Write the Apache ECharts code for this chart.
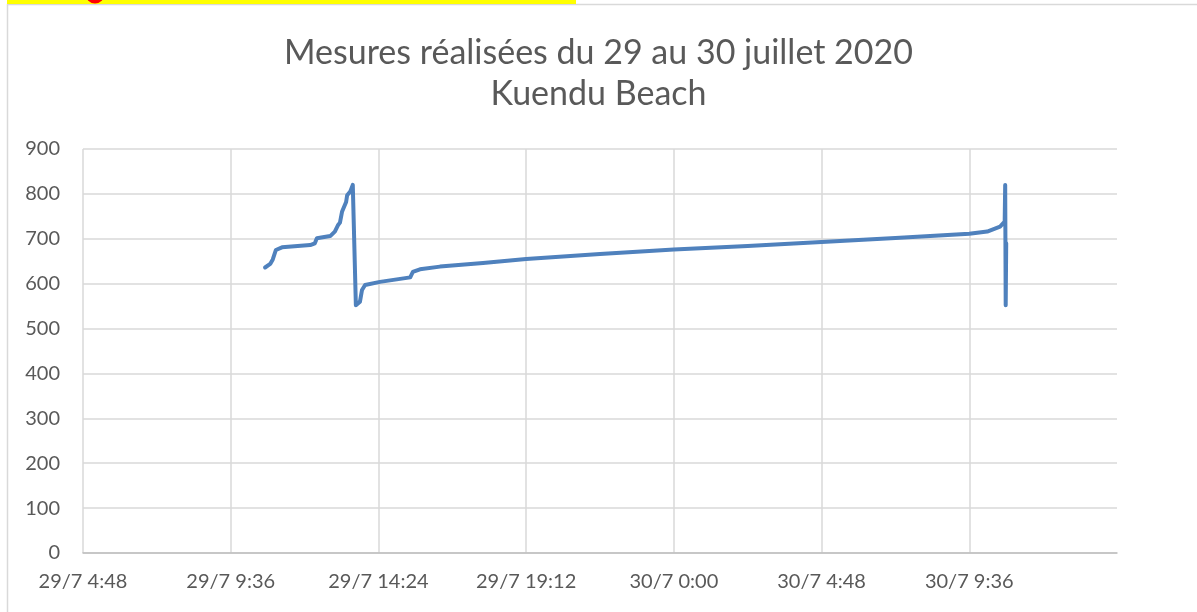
<!DOCTYPE html>
<html>
<head>
<meta charset="utf-8">
<title>Kuendu Beach</title>
<script src="https://cdn.jsdelivr.net/npm/echarts@6/dist/echarts.min.js"></script>
<style>
  html, body { margin: 0; padding: 0; background: #fff; }
  #chart { width: 1197px; height: 612px; }
</style>
</head>
<body>
<div id="chart"></div>
<script>
// relevés (jour/mois heure:minute) et valeurs
const times = [
  "29/7 10:43", "29/7 10:53", "29/7 10:58", "29/7 11:04", "29/7 11:16",
  "29/7 12:11", "29/7 12:20", "29/7 12:24", "29/7 12:50", "29/7 12:59",
  "29/7 13:05", "29/7 13:09", "29/7 13:13", "29/7 13:21", "29/7 13:23",
  "29/7 13:29", "29/7 13:34", "29/7 13:40", "29/7 13:48", "29/7 13:52",
  "29/7 13:58", "29/7 14:27", "29/7 15:26", "29/7 15:31", "29/7 15:45",
  "29/7 16:24", "29/7 17:48", "29/7 19:12", "29/7 21:36", "30/7 0:00",
  "30/7 2:24", "30/7 4:48", "30/7 7:12", "30/7 9:36", "30/7 10:11",
  "30/7 10:36", "30/7 10:45", "30/7 10:46", "30/7 10:47", "30/7 10:48"
];
const values = [
  636, 644, 654, 675, 681,
  686, 690, 701, 706, 716,
  730, 736, 760, 782, 797,
  805, 820, 552, 560, 586,
  597, 604, 614, 626, 632,
  638, 646, 655, 666, 676,
  684, 693, 702, 711, 716,
  727, 738, 820, 552, 690
];
const yTicks = { min: 0, max: 900, step: 100 };
// axe x en heures depuis le 29/7 0:00 : de 4:48 à 30/7 14:24, pas de 4 h 48
const xTicks = { min: 4.8, max: 38.4, step: 4.8 };

function toHours(s) {
  const parts = s.split(" ");
  const day = parseInt(parts[0].split("/")[0], 10);
  const hm = parts[1].split(":");
  return (day - 29) * 24 + parseInt(hm[0], 10) + parseInt(hm[1], 10) / 60;
}

function fmtHours(h) {
  const total = Math.round(h * 60);
  const day = 29 + Math.floor(total / 1440);
  const rest = total % 1440;
  const hh = Math.floor(rest / 60);
  const mm = rest % 60;
  return day + "/7 " + hh + ":" + (mm < 10 ? "0" + mm : mm);
}

const points = times.map((t, i) => [toHours(t), values[i]]);

const FONT = "Lato";
const myChart = echarts.init(document.getElementById("chart"));
const option = {
  animation: false,
  backgroundColor: "#ffffff",
  textStyle: { fontFamily: FONT },
  title: {
    text: "Mesures réalisées du 29 au 30 juillet 2020\nKuendu Beach",
    left: "center",
    top: 28,
    textStyle: {
      color: "#595959",
      fontFamily: FONT,
      fontWeight: "normal",
      fontSize: 34,
      lineHeight: 41,
    },
  },
  graphic: [
    {
      type: "rect",
      shape: { x: 7.5, y: 4.5, width: 1300, height: 700 },
      style: { fill: "none", stroke: "#d9d9d9", lineWidth: 1.5 },
    },
    {
      type: "rect",
      shape: { x: 7, y: 0, width: 569, height: 4 },
      style: { fill: "#ffff00" },
    },
    {
      type: "circle",
      shape: { cx: 95, cy: -6, r: 9.5 },
      style: { fill: "#ff0000" },
    },
  ],
  grid: { left: 83, right: 80, top: 149, bottom: 59 },
  xAxis: {
    type: "value",
    min: xTicks.min,
    max: xTicks.max,
    interval: xTicks.step,
    axisLine: { show: true, lineStyle: { color: "#bfbfbf", width: 1.5 } },
    axisTick: { show: false },
    axisLabel: {
      color: "#595959",
      fontSize: 20,
      fontFamily: FONT,
      margin: 19,
      showMaxLabel: false,
      formatter: fmtHours,
    },
    splitLine: {
      show: true,
      showMinLine: true,
      showMaxLine: false,
      lineStyle: { color: "#d9d9d9", width: 1.5 },
    },
  },
  yAxis: {
    type: "value",
    min: yTicks.min,
    max: yTicks.max,
    interval: yTicks.step,
    axisLine: { show: false },
    axisTick: { show: false },
    axisLabel: { color: "#595959", fontSize: 20, fontFamily: FONT, margin: 23 },
    splitLine: { lineStyle: { color: "#d9d9d9", width: 1.5 } },
  },
  series: [
    {
      type: "line",
      data: points,
      showSymbol: false,
      symbol: "none",
      lineStyle: { color: "#4f81bd", width: 4, cap: "round", join: "round" },
    },
  ],
};
myChart.setOption(option);
</script>
</body>
</html>
